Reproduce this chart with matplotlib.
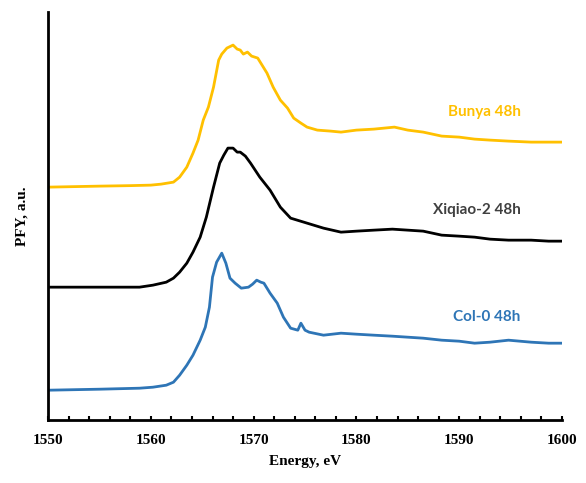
import numpy as np
import matplotlib.pyplot as plt
from matplotlib.ticker import MultipleLocator

# energies (eV) and PFY intensities (arbitrary units, offset stacked)
e_bunya = [1550, 1555, 1558, 1560, 1561, 1561.6, 1562.2, 1562.8, 1563.5, 1564.1, 1564.6,
           1565.1, 1565.6, 1566.1, 1566.6, 1566.9, 1567.4, 1568.0, 1568.4, 1568.7, 1569.0,
           1569.4, 1569.8, 1570.4, 1571.3, 1571.9, 1572.6, 1573.3, 1573.9, 1574.6, 1575.2,
           1576.2, 1577.5, 1578.5, 1580, 1581.7, 1583.7, 1585, 1586.5, 1588.3, 1590,
           1591.5, 1593, 1594.8, 1597, 1598.7, 1600]
i_bunya = [233, 234, 234.5, 235, 236, 237, 238, 243, 253, 267, 280,
           300, 313, 333, 360, 366, 372, 375, 371, 370, 366,
           368, 364, 362, 347, 333, 320, 312, 302, 297, 293,
           290, 289, 288, 290, 291, 293, 290, 288, 284, 283,
           281, 280, 279, 278, 278, 278]

e_xiqiao = [1550, 1555, 1558.9, 1560.2, 1561.5, 1562.2, 1562.8, 1563.5, 1564.1, 1564.8,
            1565.4, 1566.1, 1566.7, 1567.1, 1567.5, 1568.0, 1568.4, 1568.7, 1569.2, 1569.7,
            1570.6, 1571.6, 1572.6, 1573.6, 1575.2, 1576.8, 1578.5, 1580, 1581.7, 1583.5,
            1585, 1586.5, 1588.3, 1590, 1591.5, 1593, 1594.8, 1597, 1598.7, 1600]
i_xiqiao = [133, 133, 133, 135, 138, 142, 148, 157, 168, 183,
            203, 233, 257, 265, 272, 272, 268, 268, 264, 257,
            243, 230, 213, 202, 197, 192, 188, 189, 190, 191,
            190, 189, 185, 184, 183, 181, 180, 180, 179, 179]

e_col = [1550, 1555, 1558.9, 1560.2, 1561.5, 1562.2, 1562.8, 1563.5, 1564.1, 1564.8,
         1565.3, 1565.7, 1566.0, 1566.4, 1566.9, 1567.3, 1567.7, 1568.2, 1568.8, 1569.5,
         1569.9, 1570.3, 1570.7, 1571.0, 1571.6, 1572.3, 1572.9, 1573.6, 1574.3, 1574.6,
         1575.0, 1575.4, 1576.8, 1578.5, 1580, 1581.7, 1583.5, 1585, 1586.5, 1588.3,
         1590, 1591.5, 1593, 1594.8, 1597, 1598.7, 1600]
i_col = [30, 31, 32, 33, 35, 38, 45, 55, 65, 80,
         93, 113, 143, 158, 167, 157, 142, 137, 132, 133,
         136, 140, 138, 137, 127, 117, 103, 92, 90, 97,
         90, 88, 85, 87, 86, 85, 84, 83, 82, 80,
         79, 77, 78, 80, 78, 77, 77]

labels = ['Bunya 48h', 'Xiqiao-2 48h', 'Col-0 48h']
colors = ['#FFC000', '#000000', '#2E75B6']
text_colors = ['#FFC000', '#404040', '#2E75B6']
label_y = [308, 210, 103]

fig = plt.figure(figsize=(5.86, 4.83), dpi=100)
ax = fig.add_axes([0.082, 0.130, 0.877, 0.845])

series = [(e_bunya, i_bunya), (e_xiqiao, i_xiqiao), (e_col, i_col)]
for (e, i), c in zip(series, colors):
    ax.plot(e, i, color=c, linewidth=2)

for lab, tc, ly in zip(labels, text_colors, label_y):
    ax.text(1596, ly, lab, color=tc, fontsize=11, fontweight='bold',
            ha='right', va='center', family='Lato')

ax.set_xlim(1550, 1600)
ax.set_ylim(0, 408)
ax.xaxis.set_major_locator(MultipleLocator(10))
ax.xaxis.set_minor_locator(MultipleLocator(2))
ax.tick_params(axis='x', which='both', direction='in', length=3, width=1.5, pad=10)
ax.set_yticks([])

for s in ['top', 'right']:
    ax.spines[s].set_visible(False)
for s in ['left', 'bottom']:
    ax.spines[s].set_linewidth(2)

for t in ax.get_xticklabels():
    t.set_fontfamily('Liberation Serif')
    t.set_fontweight('bold')
    t.set_fontsize(11)

ax.set_xlabel('Energy, eV', family='Liberation Serif', fontweight='bold', fontsize=11, labelpad=6)
ax.set_ylabel('PFY, a.u.', family='Liberation Serif', fontweight='bold', fontsize=11, labelpad=14)

fig.savefig('out.png', dpi=100)
